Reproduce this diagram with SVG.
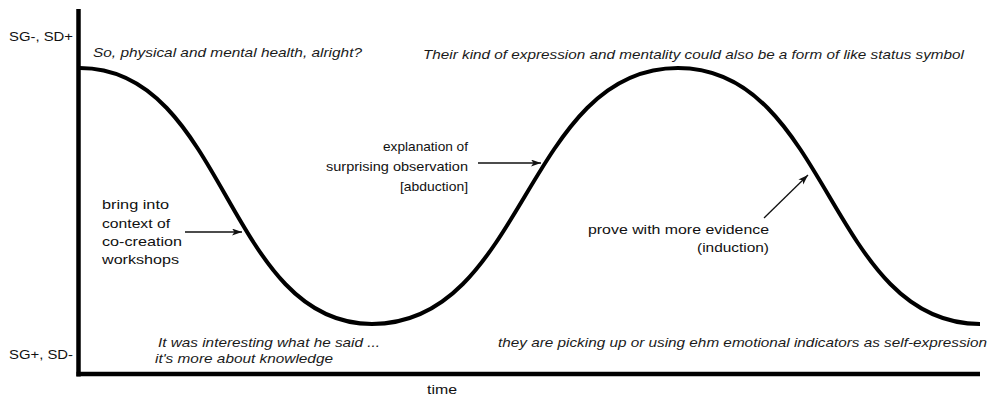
<svg xmlns="http://www.w3.org/2000/svg" width="995" height="399" viewBox="0 0 995 399">
<style>
text{font-family:"Liberation Sans",Arial,Helvetica,sans-serif;font-size:13px;fill:#111}
.it{font-style:italic;fill:#1a1a1a}
.axis{stroke:#000;stroke-width:4.5;fill:none}
.curve{stroke:#000;stroke-width:4;fill:none;stroke-linecap:butt}
.arr{stroke:#111;stroke-width:1.3;fill:none;marker-end:url(#ah)}
</style>
<defs>
<marker id="ah" markerUnits="userSpaceOnUse" markerWidth="11" markerHeight="8" refX="10" refY="3.5" orient="auto">
<path d="M0,0 L10,3.5 L0,7 L2.5,3.5 z" fill="#111"/>
</marker>
</defs>
<rect width="995" height="399" fill="#fff"/>
<g id="axes">
<line class="axis" x1="78.5" y1="9" x2="78.5" y2="376.5"/>
<line class="axis" x1="76.5" y1="374" x2="980" y2="374"/>
<text x="9" y="41" textLength="64" lengthAdjust="spacingAndGlyphs">SG-, SD+</text>
<text x="9" y="359" textLength="64" lengthAdjust="spacingAndGlyphs">SG+, SD-</text>
<text x="427" y="394" textLength="30" lengthAdjust="spacingAndGlyphs">time</text>
</g>
<path id="curve" class="curve" d="M80,68 C226,68 226,324 372,324 C525,324 525,68 678,68 C829,68 829,324 980,324"/>
<g id="quote-top-left"><text class="it" x="93" y="57" textLength="269" lengthAdjust="spacingAndGlyphs">So, physical and mental health, alright?</text></g>
<g id="quote-top-right"><text class="it" x="423" y="59" textLength="541" lengthAdjust="spacingAndGlyphs">Their kind of expression and mentality could also be a form of like status symbol</text></g>
<g id="quote-bottom-left">
<text class="it" x="158" y="346.5" textLength="222" lengthAdjust="spacingAndGlyphs">It was interesting what he said ...</text>
<text class="it" x="155" y="362.5" textLength="178" lengthAdjust="spacingAndGlyphs">it's more about knowledge</text>
</g>
<g id="quote-bottom-right"><text class="it" x="498" y="346.5" textLength="489" lengthAdjust="spacingAndGlyphs">they are picking up or using ehm emotional indicators as self-expression</text></g>
<g id="label-context">
<text x="102" y="209" textLength="67" lengthAdjust="spacingAndGlyphs">bring into</text>
<text x="102" y="228" textLength="68" lengthAdjust="spacingAndGlyphs">context of</text>
<text x="102" y="246" textLength="80" lengthAdjust="spacingAndGlyphs">co-creation</text>
<text x="102" y="264" textLength="77" lengthAdjust="spacingAndGlyphs">workshops</text>
</g>
<g id="label-abduction">
<text x="383" y="151" textLength="85" lengthAdjust="spacingAndGlyphs">explanation of</text>
<text x="326" y="171" textLength="142" lengthAdjust="spacingAndGlyphs">surprising observation</text>
<text x="400" y="191" textLength="68" lengthAdjust="spacingAndGlyphs">[abduction]</text>
</g>
<g id="label-induction">
<text x="588" y="234" textLength="181" lengthAdjust="spacingAndGlyphs">prove with more evidence</text>
<text x="697" y="252" textLength="72" lengthAdjust="spacingAndGlyphs">(induction)</text>
</g>
<g id="connectors">
<line class="arr" x1="185" y1="232" x2="242" y2="232"/>
<line class="arr" x1="478" y1="163" x2="541" y2="163"/>
<line class="arr" x1="764" y1="218" x2="808" y2="175"/>
</g>
</svg>
